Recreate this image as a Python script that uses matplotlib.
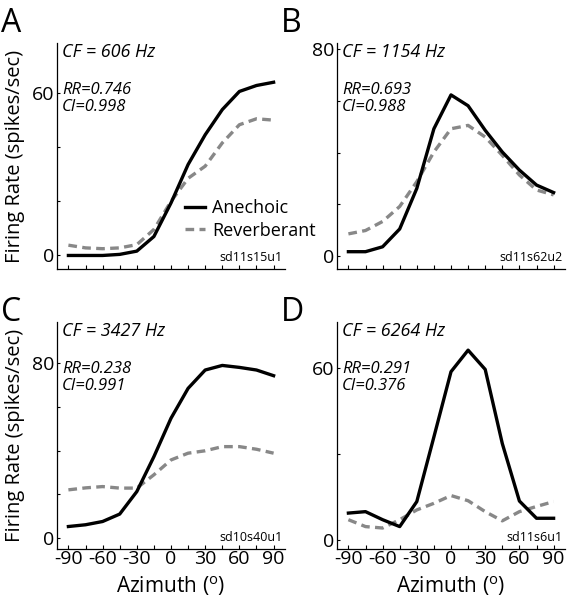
import matplotlib
matplotlib.use("Agg")
import matplotlib.pyplot as plt

plt.rcParams['font.family'] = ['Open Sans', 'DejaVu Sans']

azimuth = [-90, -75, -60, -45, -30, -15, 0, 15, 30, 45, 60, 75, 90]

# panel A, CF = 606 Hz
a_anech = [0, 0, 0, 0.4, 1.6, 7, 19.4, 33.6, 44.6, 53.9, 60.6, 62.8, 64]
a_reverb = [3.8, 2.8, 2.5, 2.8, 4, 9.6, 20, 28.5, 33, 41.6, 48.3, 50.5, 50]
# panel B, CF = 1154 Hz
b_anech = [1.7, 1.7, 3.6, 10.5, 26.2, 49.3, 62.4, 58.2, 48.7, 40.3, 33.3, 27.5, 24.6]
b_reverb = [8.6, 9.9, 13.4, 19.2, 28.8, 40.3, 49.3, 50.6, 46.1, 39, 31.4, 25.6, 23.7]
# panel C, CF = 3427 Hz
c_anech = [5.3, 6.1, 7.6, 11, 21.3, 37.3, 54.9, 68.6, 77, 79.1, 78.2, 77, 74.4]
c_reverb = [22.1, 23, 23.6, 22.9, 22.9, 29, 35.8, 38.9, 40, 41.9, 41.9, 40.7, 38.9]
# panel D, CF = 6264 Hz
d_anech = [9.5, 10, 7.2, 4.8, 13.5, 36, 58.7, 66.2, 59.5, 33.7, 13.7, 7.7, 7.7]
d_reverb = [7.2, 4.8, 4.3, 7.2, 10.6, 12.9, 15.6, 13.8, 10, 6.8, 10, 11.8, 13.5]

letters = ['A', 'B', 'C', 'D']
cf_labels = ['CF = 606 Hz', 'CF = 1154 Hz', 'CF = 3427 Hz', 'CF = 6264 Hz']
rr_labels = ['RR=0.746', 'RR=0.693', 'RR=0.238', 'RR=0.291']
ci_labels = ['CI=0.998', 'CI=0.988', 'CI=0.991', 'CI=0.376']
unit_ids = ['sd11s15u1', 'sd11s62u2', 'sd10s40u1', 'sd11s6u1']
ylims = [(-5, 78.5), (-5, 82.5), (-5, 99), (-3, 76)]
yticks = [[0, 20, 40, 60], [0, 20, 40, 60, 80], [0, 20, 40, 60, 80], [0, 30, 60]]
ylabels_shown = [[0, 60], [0, 80], [0, 80], [0, 60]]

anech = [a_anech, b_anech, c_anech, d_anech]
reverb = [a_reverb, b_reverb, c_reverb, d_reverb]

W, H = 567, 600
fig = plt.figure(figsize=(W / 100, H / 100), dpi=100)

# axes boxes in pixels: left, top, right, bottom
boxes = [(57, 43, 285, 269), (337, 43, 565, 269),
         (57, 322, 285, 549), (337, 322, 565, 549)]
# baseline of the panel letters, pixels from top
letter_y = [32, 32, 321, 321]

for i in range(4):
    l, t, r, b = boxes[i]
    ax = fig.add_axes([l / W, 1 - b / H, (r - l) / W, (b - t) / H])
    ax.plot(azimuth, reverb[i], color='#888888', lw=2.4, dashes=(2.6, 1.6),
            label='Reverberant')
    ax.plot(azimuth, anech[i], color='black', lw=2.4, label='Anechoic')
    ax.set_xlim(-100, 100)
    ax.set_ylim(*ylims[i])
    ax.spines['top'].set_visible(False)
    ax.spines['right'].set_visible(False)
    ax.spines['left'].set_linewidth(0.9)
    ax.spines['bottom'].set_linewidth(0.9)
    ax.set_xticks(range(-90, 91, 15))
    ax.set_yticks(yticks[i])
    ax.set_yticklabels([str(v) if v in ylabels_shown[i] else '' for v in yticks[i]])
    if i >= 2:
        ax.set_xticklabels([str(v) if v % 30 == 0 else '' for v in range(-90, 91, 15)])
        ax.set_xlabel('Azimuth ($^\\mathregular{o}$)', fontsize=15, va='baseline')
        ax.xaxis.set_label_coords(0.5, -(593 - b) / (b - t))
    else:
        ax.set_xticklabels([])
    if i % 2 == 0:
        ax.set_ylabel('Firing Rate (spikes/sec)', fontsize=14.5)
        ax.yaxis.set_label_coords(-(l - 25) / (r - l), 0.5)
    ax.tick_params(axis='x', direction='in', length=3, width=0.8, labelsize=14, pad=1)
    ax.tick_params(axis='y', direction='in', length=2, width=0.8, labelsize=14, pad=2)

    ax.text(0.022, 0.94, cf_labels[i], transform=ax.transAxes, fontsize=13,
            style='italic', va='baseline')
    ax.text(0.022, 0.775, rr_labels[i], transform=ax.transAxes, fontsize=12,
            style='italic', va='baseline')
    ax.text(0.022, 0.70, ci_labels[i], transform=ax.transAxes, fontsize=12,
            style='italic', va='baseline')
    ax.text(0.99, 0.02, unit_ids[i], transform=ax.transAxes, fontsize=9,
            ha='right', va='bottom')
    fig.text((l - 56) / W, 1 - letter_y[i] / H, letters[i], fontsize=23,
             va='baseline', ha='left')

    if i == 0:
        handles, labels = ax.get_legend_handles_labels()
        ax.legend(handles[::-1], labels[::-1], loc='upper left',
                  bbox_to_anchor=((185 - l) / (r - l), (b - 199) / (b - t)),
                  frameon=False, fontsize=13,
                  handlelength=1.1, handletextpad=0.4, labelspacing=0.25,
                  borderaxespad=0, borderpad=0)

fig.savefig('out.png', dpi=100)
